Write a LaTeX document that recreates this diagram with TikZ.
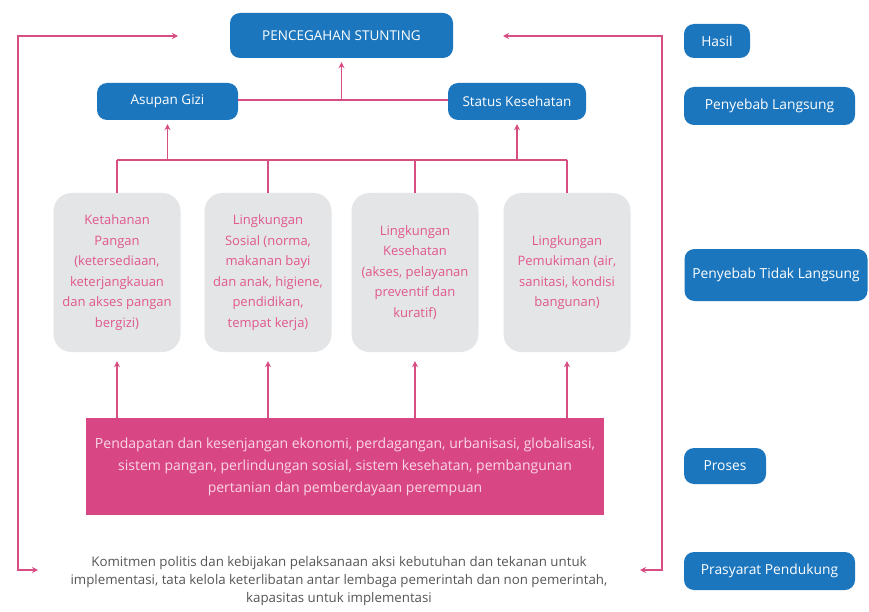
\documentclass[tikz,border=0pt]{standalone}
\usepackage{fontspec}
\setmainfont{Open Sans}
\usetikzlibrary{arrows.meta}
\definecolor{bluebox}{RGB}{28,118,190}
\definecolor{pinkline}{RGB}{214,78,130}
\definecolor{pinkbox}{RGB}{216,70,132}
\definecolor{graybox}{RGB}{228,229,231}
\definecolor{pinktext}{RGB}{224,88,140}
\definecolor{greytext}{RGB}{85,85,85}
\definecolor{pinkboxtext}{RGB}{250,215,230}
\begin{document}
\begin{tikzpicture}[x=1pt,y=-1pt,
  bluenode/.style={fill=bluebox, rounded corners=10pt, text=white, inner sep=0pt, align=center, font=\fontsize{13.5}{15}\selectfont},
  legendnode/.style={bluenode, font=\fontsize{13.8}{15}\selectfont},
  graynode/.style={fill=graybox, rounded corners=18pt, text=pinktext, inner sep=0pt, align=center, minimum width=127pt, minimum height=159pt, font=\fontsize{13}{20.5}\selectfont},
  pinknode/.style={fill=pinkbox, text=pinkboxtext, inner sep=0pt, align=center, font=\fontsize{14}{22}\selectfont},
  conn/.style={draw=pinkline, line width=1.4pt},
  arr/.style={conn, -{Stealth[length=6pt,width=6pt]}},
  barr/.style={conn, {Stealth[length=6pt,width=6pt]}-{Stealth[length=6pt,width=6pt]}}
]
\useasboundingbox[fill=white] (0,0) rectangle (869,612);

% top level
\node[bluenode, minimum width=223pt, minimum height=45pt] (top) at (341.5,35.5) {PENCEGAHAN STUNTING};
\node[bluenode, minimum width=141pt, minimum height=37pt] (asupan) at (167.5,101.5) {Asupan Gizi};
\node[bluenode, minimum width=138pt, minimum height=37pt] (status) at (517,101.5) {Status Kesehatan};

% gray boxes
\node[graynode] (g1) at (117,272.5) {Ketahanan\\Pangan\\(ketersediaan,\\keterjangkauan\\dan akses pangan\\bergizi)};
\node[graynode] (g2) at (268,272.5) {Lingkungan\\Sosial (norma,\\makanan bayi\\dan anak, higiene,\\pendidikan,\\tempat kerja)};
\node[graynode] (g3) at (415,272.5) {Lingkungan\\Kesehatan\\(akses, pelayanan\\preventif dan\\kuratif)};
\node[graynode] (g4) at (567,272.5) {Lingkungan\\Pemukiman (air,\\sanitasi, kondisi\\bangunan)};

% pink box
\node[pinknode, minimum width=518pt, minimum height=97pt] (pink) at (345,466.5) {Pendapatan dan kesenjangan ekonomi, perdagangan, urbanisasi, globalisasi,\\sistem pangan, perlindungan sosial, sistem kesehatan, pembangunan\\pertanian dan pemberdayaan perempuan};

% bottom text
\node[text=greytext, align=center, inner sep=0pt, font=\fontsize{13.3}{18}\selectfont] (komit) at (339,581) {Komitmen politis dan kebijakan pelaksanaan aksi kebutuhan dan tekanan untuk\\implementasi, tata kelola keterlibatan antar lembaga pemerintah dan non pemerintah,\\kapasitas untuk implementasi};

% legend
\node[legendnode, minimum width=66pt, minimum height=34pt] (hasil) at (717,41) {Hasil};
\node[legendnode, minimum width=171pt, minimum height=38pt] (pl) at (769.5,106) {Penyebab Langsung};
\node[legendnode, minimum width=183pt, minimum height=52pt] (ptl) at (776,275) {Penyebab Tidak Langsung};
\node[legendnode, minimum width=82pt, minimum height=36pt] (proses) at (725,466) {Proses};
\node[legendnode, minimum width=171pt, minimum height=38pt] (pras) at (769.5,571) {Prasyarat Pendukung};

% connectors top
\coordinate (j1) at (341.5,100);
\draw[conn] (asupan.east |- j1) -- (status.west |- j1);
\draw[arr, shorten >=4pt] (j1) -- (top.south);

\coordinate (busL) at (117,160);
\coordinate (busR) at (567,160);
\coordinate (busA) at (167.5,160);
\coordinate (busS) at (517,160);
\draw[conn] (busL) -- (busR);
\draw[arr, shorten >=4pt] (busA) -- (asupan.south);
\draw[arr, shorten >=4pt] (busS) -- (status.south);
\draw[conn] (busL) -- (g1.north);
\draw[conn] (268,160) -- (g2.north);
\draw[conn] (415,160) -- (g3.north);
\draw[conn] (busR) -- (g4.north);

% pink box arrows
\foreach \g/\xx in {g1/117,g2/268,g3/415,g4/567}{
  \draw[arr, shorten >=9pt] (\xx,418) -- (\g.south);
}

% frame
\coordinate (lt) at (178,36);
\coordinate (lc1) at (18,36);
\coordinate (lc2) at (18,570);
\coordinate (lb) at (38,570);
\draw[barr] (lt) -- (lc1) -- (lc2) -- (lb);
\coordinate (rt) at (503,36);
\coordinate (rc1) at (662,36);
\coordinate (rc2) at (662,570);
\coordinate (rb) at (640,570);
\draw[barr] (rt) -- (rc1) -- (rc2) -- (rb);
\end{tikzpicture}
\end{document}
